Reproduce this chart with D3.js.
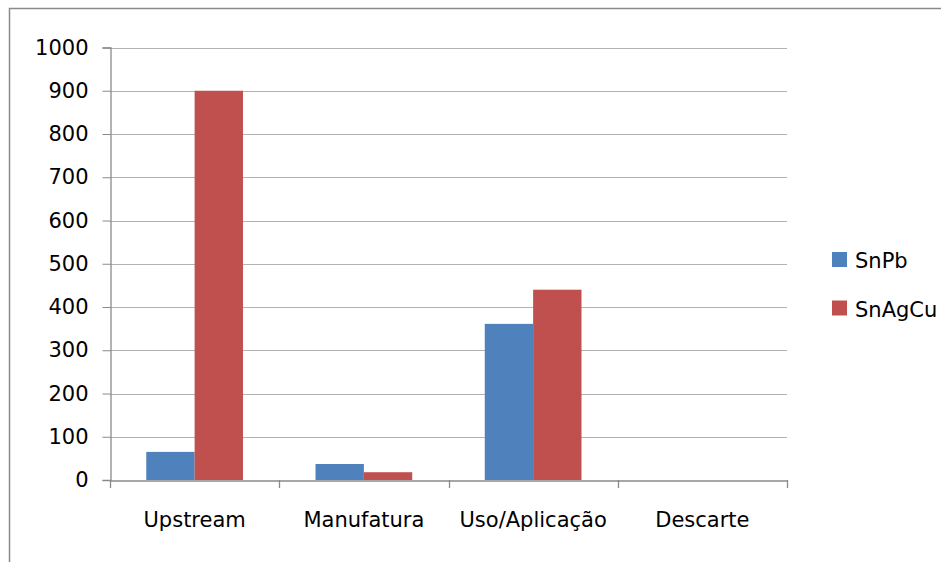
<!DOCTYPE html>
<meta charset="utf-8">
<style>
body { margin: 0; background: #fff; }
text { font-family: "DejaVu Sans", sans-serif; fill: #000; }
</style>
<body>
<div id="graph"></div>
<script src="https://cdn.jsdelivr.net/npm/d3@7"></script>
<script>
var categories = ["Upstream", "Manufatura", "Uso/Aplicação", "Descarte"];
var seriesNames = ["SnPb", "SnAgCu"];
var snpb = [65, 37, 361, 0];
var snagcu = [900, 18, 440, 0];
var yTicks = [0, 100, 200, 300, 400, 500, 600, 700, 800, 900, 1000];
var colors = ["#4F81BD", "#C0504D"];

var svg = d3.select("#graph").append("svg")
  .attr("width", 941)
  .attr("height", 562);

// outer frame
svg.append("path")
  .attr("d", "M9.5,562 V8.5 H941")
  .style("fill", "none")
  .style("stroke", "#8a8a8a")
  .style("stroke-width", 1.5);

var x = d3.scaleBand().domain(categories).range([110, 787]);
var y = d3.scaleLinear().domain([0, 1000]).range([480, 47.5]);
var bw = x.bandwidth() / 3.5;
var inner = d3.scaleBand().domain(seriesNames).range([0, 2 * bw]);

// gridlines
svg.append("g").selectAll("line")
  .data(yTicks.slice(1))
  .enter().append("line")
  .attr("x1", 110).attr("x2", 787)
  .attr("y1", d => Math.round(y(d)) + 0.5)
  .attr("y2", d => Math.round(y(d)) + 0.5)
  .style("stroke", "#b3b3b3")
  .style("stroke-width", 1.2);

var rows = categories.map((c, i) => ({cat: c, vals: [snpb[i], snagcu[i]]}));

var groups = svg.selectAll(".grp")
  .data(rows)
  .enter().append("g")
  .attr("transform", d => "translate(" + (x(d.cat) + (x.bandwidth() - 2 * bw) / 2) + ",0)");

groups.selectAll("rect")
  .data(d => d.vals.map((v, j) => ({name: seriesNames[j], v: v, c: colors[j]})))
  .enter().append("rect")
  .attr("x", d => inner(d.name))
  .attr("width", inner.bandwidth())
  .attr("y", d => y(d.v))
  .attr("height", d => y(0) - y(d.v))
  .style("fill", d => d.c);

// y axis
var yAxis = svg.append("g")
  .attr("transform", "translate(110.5,0)")
  .call(d3.axisLeft(y).tickValues(yTicks).tickSize(8).tickPadding(14).tickFormat(d3.format("d")));
yAxis.select(".domain").style("stroke", "#8a8a8a").style("stroke-width", 1.3);
yAxis.selectAll(".tick line").style("stroke", "#8a8a8a");
yAxis.selectAll("text").style("font-size", "21px").style("font-family", "DejaVu Sans");

// x axis
var xAxis = svg.append("g")
  .attr("transform", "translate(0,480.5)")
  .call(d3.axisBottom(x).tickSize(0).tickPadding(32));
xAxis.select(".domain").style("stroke", "#8a8a8a").style("stroke-width", 1.3);
xAxis.selectAll("text").style("font-size", "21px").style("font-family", "DejaVu Sans");

// category separators
var bounds = categories.map(c => x(c)).concat([x.range()[1]]);
svg.append("g").selectAll("line")
  .data(bounds)
  .enter().append("line")
  .attr("x1", d => Math.round(d) + 0.5).attr("x2", d => Math.round(d) + 0.5)
  .attr("y1", 480).attr("y2", 488)
  .style("stroke", "#8a8a8a")
  .style("stroke-width", 1.3);

// legend
var legend = svg.selectAll(".legend")
  .data(seriesNames)
  .enter().append("g")
  .attr("transform", (d, i) => "translate(832," + (252 + i * 48.5) + ")");
legend.append("rect")
  .attr("width", 15).attr("height", 15)
  .style("fill", (d, i) => colors[i]);
legend.append("text")
  .attr("x", 23).attr("y", 16)
  .style("font-size", "21px")
  .text(d => d);
</script>
</body>
